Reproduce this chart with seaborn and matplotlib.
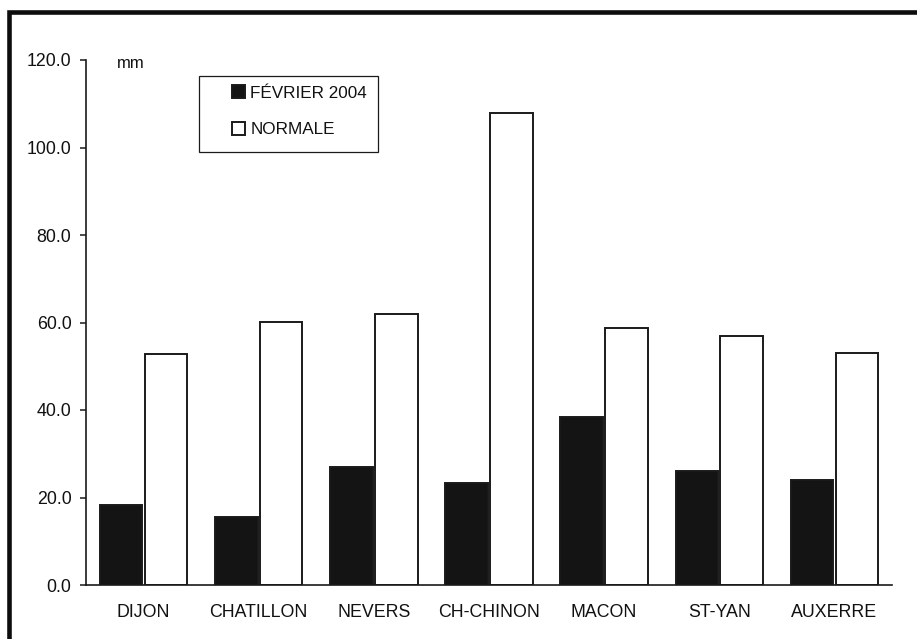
import matplotlib
matplotlib.use("Agg")
import matplotlib.pyplot as plt
from matplotlib.patches import Rectangle
import seaborn as sns
import pandas as pd

# Précipitations de février 2004 et normales mensuelles (mm)
stations = ["DIJON", "CHATILLON", "NEVERS", "CH-CHINON", "MACON", "ST-YAN", "AUXERRE"]
fevrier_2004 = [18.4, 15.6, 27.0, 23.3, 38.3, 26.0, 24.1]
normale = [52.7, 60.1, 62.0, 107.9, 58.8, 56.9, 53.0]
series = ["FÉVRIER 2004", "NORMALE"]
y_ticks = [0, 20, 40, 60, 80, 100, 120]

df = pd.DataFrame({
    "station": stations * 2,
    "mm": fevrier_2004 + normale,
    "serie": [series[0]] * len(stations) + [series[1]] * len(stations),
})

sns.set_theme(style="white")
plt.rcParams["font.family"] = ["Liberation Sans", "DejaVu Sans"]

W, H = 917, 639
fig = plt.figure(figsize=(W / 100, H / 100), dpi=100)
fig.patch.set_facecolor("white")
ax = fig.add_axes([86 / W, (H - 585) / H, 806 / W, 525 / H])

sns.barplot(
    data=df, x="station", y="mm", hue="serie", order=stations, hue_order=series,
    palette={series[0]: "#141414", series[1]: "white"},
    edgecolor="#1a1a1a", linewidth=1.4, width=0.78, gap=0.05,
    saturation=1, ax=ax,
)

ax.set_xlim(-0.5, len(stations) - 0.5)
ax.set_ylim(0, 120)
ax.set_yticks(y_ticks)
ax.set_yticklabels([f"{v:.1f}" for v in y_ticks])
ax.set_xlabel("")
ax.set_ylabel("")
ax.set_facecolor("white")

for side in ("top", "right"):
    ax.spines[side].set_visible(False)
for side in ("left", "bottom"):
    ax.spines[side].set_color("#1a1a1a")
    ax.spines[side].set_linewidth(1.2)

ax.tick_params(axis="y", which="major", direction="out", length=4, width=1.1,
               color="#1a1a1a", pad=6.5, labelsize=12.8, labelcolor="#111111", left=True)
ax.tick_params(axis="x", length=0, pad=13.5, labelsize=12.8, labelcolor="#111111")

# unité
ax.text(31 / 806, (585 - 64) / 525, "mm", transform=ax.transAxes,
        ha="left", va="center", fontsize=12, color="#111111")

# légende
handles, labels = ax.get_legend_handles_labels()
ax.get_legend().remove()
leg = fig.legend(
    handles, labels, loc="center left",
    bbox_to_anchor=(231.5 / W, 1 - 111.3 / H),
    frameon=False, fontsize=12.3, borderpad=0, borderaxespad=0,
    handlelength=0.8, handleheight=0.8, handletextpad=0.3, labelspacing=1.22,
)
for t in leg.get_texts():
    t.set_color("#111111")
fig.add_artist(Rectangle((199 / W, 1 - 151.7 / H), 179 / W, 76 / H,
                         transform=fig.transFigure, fill=False,
                         edgecolor="#1a1a1a", linewidth=0.9))

# cadre extérieur
fig.add_artist(Rectangle((9 / W, -0.2), 1.3, 0.2 + 1 - 11.7 / H,
                         transform=fig.transFigure, fill=False,
                         edgecolor="#0d0d0d", linewidth=3.3, clip_on=False))

fig.savefig("out.png", dpi=100, facecolor="white")
